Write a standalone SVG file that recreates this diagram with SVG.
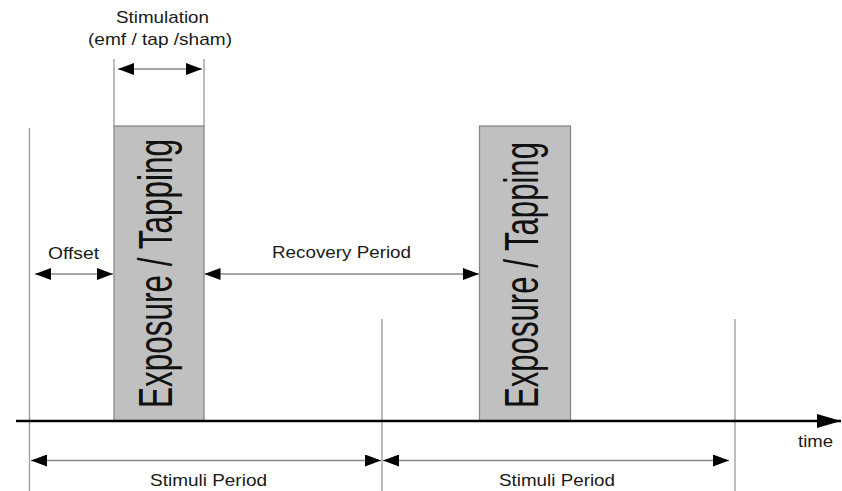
<svg xmlns="http://www.w3.org/2000/svg" width="842" height="491" viewBox="0 0 842 491">
<style>
.t{font-family:"Liberation Sans",Arial,sans-serif;font-size:17px;fill:#1a1a1a}
.big{font-family:"Liberation Sans Narrow","Arial Narrow","Liberation Sans",sans-serif;font-size:48px;fill:#111}
.guide{stroke:#999;stroke-width:1.3;fill:none}
.dim{stroke:#888;stroke-width:1.3;fill:none}
.box{fill:#c0c0c0;stroke:#888;stroke-width:1.3}
</style>
<defs>
<marker id="ah" viewBox="0 0 16 12" refX="16" refY="6" markerWidth="16" markerHeight="12" markerUnits="userSpaceOnUse" orient="auto-start-reverse">
<path d="M0,0 L16,6 L0,12 Z" fill="#000"/>
</marker>
<marker id="axh" viewBox="0 0 24 14" refX="24" refY="7" markerWidth="24" markerHeight="14" markerUnits="userSpaceOnUse" orient="auto">
<path d="M0,0 L24,7 L0,14 Z" fill="#000"/>
</marker>
</defs>
<g id="guides">
<line class="guide" x1="29.5" y1="128" x2="29.5" y2="491"/>
<line class="guide" x1="382" y1="319" x2="382" y2="491"/>
<line class="guide" x1="735" y1="319" x2="735" y2="491"/>
<line class="guide" x1="114" y1="59" x2="114" y2="126"/>
<line class="guide" x1="204" y1="59" x2="204" y2="126"/>
</g>
<g id="box1">
<rect class="box" x="114" y="126" width="90" height="295"/>
<text class="big" transform="translate(172,408) rotate(-90)" textLength="269" lengthAdjust="spacingAndGlyphs">Exposure / Tapping</text>
</g>
<g id="box2">
<rect class="box" x="479.5" y="126" width="91" height="295"/>
<text class="big" transform="translate(538,408) rotate(-90)" textLength="266" lengthAdjust="spacingAndGlyphs">Exposure / Tapping</text>
</g>
<g id="connectors">
<line x1="16" y1="421" x2="841" y2="421" stroke="#000" stroke-width="2.5" marker-end="url(#axh)"/>
<line class="dim" x1="118" y1="69" x2="202" y2="69" marker-start="url(#ah)" marker-end="url(#ah)"/>
<line class="dim" x1="35" y1="274" x2="113" y2="274" marker-start="url(#ah)" marker-end="url(#ah)"/>
<line class="dim" x1="204.5" y1="274" x2="479" y2="274" marker-start="url(#ah)" marker-end="url(#ah)"/>
<line class="dim" x1="31" y1="460.5" x2="381" y2="460.5" marker-start="url(#ah)" marker-end="url(#ah)"/>
<line class="dim" x1="383" y1="460.5" x2="729" y2="460.5" marker-start="url(#ah)" marker-end="url(#ah)"/>
</g>
<g id="labels">
<text class="t" x="116" y="23" textLength="93" lengthAdjust="spacingAndGlyphs">Stimulation</text>
<text class="t" x="88" y="45" textLength="144" lengthAdjust="spacingAndGlyphs">(emf / tap /sham)</text>
<text class="t" x="48" y="259" textLength="51" lengthAdjust="spacingAndGlyphs">Offset</text>
<text class="t" x="272" y="258" textLength="139" lengthAdjust="spacingAndGlyphs">Recovery Period</text>
<text class="t" x="150" y="486" textLength="117" lengthAdjust="spacingAndGlyphs">Stimuli Period</text>
<text class="t" x="499" y="486" textLength="116" lengthAdjust="spacingAndGlyphs">Stimuli Period</text>
<text class="t" x="798" y="447" textLength="35" lengthAdjust="spacingAndGlyphs">time</text>
</g>
</svg>
